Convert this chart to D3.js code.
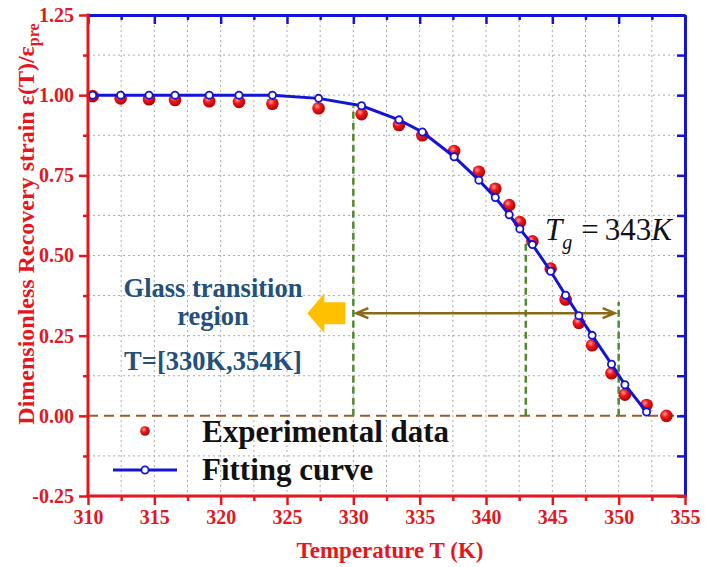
<!DOCTYPE html>
<html>
<head>
<meta charset="utf-8">
<script src="https://cdn.jsdelivr.net/npm/d3@7"></script>
<style>
  html, body { margin: 0; padding: 0; background: #fff; }
  svg { display: block; }
  text { font-family: "Liberation Serif", "Times New Roman", serif; }
</style>
</head>
<body>
<svg id="chart" width="705" height="567"></svg>
<script>
// Temperatures (K) at which recovery strain was sampled
const temps = [310.35, 312.46, 314.6, 316.56, 319.14, 321.38, 323.9, 327.38, 330.62, 333.44,
               335.2, 337.6, 339.46, 340.7, 341.75, 342.55, 343.5, 344.87, 346.0, 347.0,
               348.0, 349.46, 350.47, 352.1, 353.6];
// Measured dimensionless recovery strain
const experimental = [0.997, 0.990, 0.9875, 0.985, 0.981, 0.979, 0.973, 0.959, 0.941, 0.907,
                      0.875, 0.826, 0.761, 0.708, 0.657, 0.604, 0.544, 0.459, 0.363, 0.29,
                      0.22, 0.133, 0.066, 0.034, 0.0];
// Fitted model values (one fewer point than the measurements)
const fitting = [1.0, 1.0, 1.0, 1.0, 1.0, 1.0, 1.0, 0.99, 0.967, 0.923,
                 0.885, 0.808, 0.735, 0.681, 0.627, 0.583, 0.534, 0.451, 0.376, 0.3125,
                 0.251, 0.161, 0.097, 0.012];
// Axis ticks
const xTicks = [310, 315, 320, 325, 330, 335, 340, 345, 350, 355];
const xMinor = [312.5, 317.5, 322.5, 327.5, 332.5, 337.5, 342.5, 347.5, 352.5];
const yTicks = [-0.25, 0, 0.25, 0.5, 0.75, 1.0, 1.25];
const yTickLabels = ["-0.25", "0.00", "0.25", "0.50", "0.75", "1.00", "1.25"];
const yMinor = [-0.125, 0.125, 0.375, 0.625, 0.875, 1.125];
// Glass transition annotations
const regionStart = 330, regionEnd = 350, glassTg = 343;
const guideTemps = [regionStart, glassTg, regionEnd];
const guideTops = [0.965, 0.545, 0.355];
const arrowLevel = 0.32;
const regionLines = ["Glass transition", "region", "T=[330K,354K]"];
const legendLabels = ["Experimental data", "Fitting curve"];

const RED = "#e5161d", BLUE = "#1414d6";
const svg = d3.select("#chart");
const x = d3.scaleLinear().domain([310, 355]).range([88, 685]);
const y = d3.scaleLinear().domain([-0.25, 1.25]).range([496, 15]);

const defs = svg.append("defs");
const grad = defs.append("radialGradient").attr("id", "ball")
  .attr("cx", "38%").attr("cy", "35%").attr("r", "65%");
grad.append("stop").attr("offset", "0%").attr("stop-color", "#ffa0a0");
grad.append("stop").attr("offset", "40%").attr("stop-color", "#f21a1a");
grad.append("stop").attr("offset", "100%").attr("stop-color", "#b00000");

// dotted grid
const grid = svg.append("g").attr("stroke", "#aaa").attr("stroke-width", 1)
  .attr("stroke-dasharray", "2,3");
const vGrid = xTicks.concat(xMinor).filter(t => t > 310 && t < 355);
grid.selectAll("line.v").data(vGrid).join("line")
  .attr("x1", d => x(d)).attr("x2", d => x(d)).attr("y1", y(1.25)).attr("y2", y(-0.25));
const hGrid = yTicks.concat(yMinor).filter(t => t > -0.25 && t < 1.25 && t !== 0);
grid.selectAll("line.h").data(hGrid).join("line")
  .attr("y1", d => y(d)).attr("y2", d => y(d)).attr("x1", x(310)).attr("x2", x(355));

// zero reference
svg.append("line").attr("x1", x(310)).attr("x2", x(355)).attr("y1", y(0)).attr("y2", y(0))
  .attr("stroke", "#9a5a2a").attr("stroke-width", 2).attr("stroke-dasharray", "10,6");

// guide lines of the transition region
svg.append("g").selectAll("line").data(guideTemps).join("line")
  .attr("x1", d => x(d)).attr("x2", d => x(d))
  .attr("y1", y(0)).attr("y2", (d, i) => y(guideTops[i]))
  .attr("stroke", "#4f8a2c").attr("stroke-width", 2.5).attr("stroke-dasharray", "7,4");

// double-headed arrow spanning the region
const ay = y(arrowLevel), ax1 = x(regionStart) + 3, ax2 = x(regionEnd) - 4;
svg.append("path")
  .attr("d", `M${ax1},${ay}H${ax2}M${ax1 + 12},${ay - 5}L${ax1},${ay}L${ax1 + 12},${ay + 5}` +
             `M${ax2 - 12},${ay - 5}L${ax2},${ay}L${ax2 - 12},${ay + 5}`)
  .attr("fill", "none").attr("stroke", "#8a6a16").attr("stroke-width", 2.5);

// block arrow pointing left
const bx = x(regionStart) - 8;
svg.append("path")
  .attr("d", `M${bx},${ay - 11}H${bx - 21}V${ay - 20}L${bx - 38},${ay}L${bx - 21},${ay + 20}V${ay + 11}H${bx}Z`)
  .attr("fill", "#ffc000");

// region description
svg.append("g").attr("fill", "#24507a").attr("font-weight", "bold").attr("font-size", 26.5)
  .attr("text-anchor", "middle")
  .selectAll("text").data(regionLines).join("text")
  .attr("x", 213).attr("y", (d, i) => [297, 325, 370][i]).text(d => d);

// Tg label
const tg = svg.append("text").attr("x", 545).attr("y", 240).attr("font-size", 31).attr("fill", "#111");
tg.append("tspan").attr("font-style", "italic").text("T");
tg.append("tspan").attr("font-style", "italic").attr("font-size", 20).attr("dy", 9).text("g");
tg.append("tspan").attr("dy", -9).attr("dx", 9).text("=");
tg.append("tspan").attr("dx", 6).text(glassTg);
tg.append("tspan").attr("font-style", "italic").text("K");

// measured points
svg.append("g").selectAll("circle").data(temps).join("circle")
  .attr("cx", d => x(d)).attr("cy", (d, i) => y(experimental[i])).attr("r", 6.3)
  .attr("fill", "url(#ball)");

// fitted curve
const fitPts = fitting.map((v, i) => [temps[i], v]);
svg.append("path").datum(fitPts)
  .attr("d", d3.line().x(d => x(d[0])).y(d => y(d[1])))
  .attr("fill", "none").attr("stroke", BLUE).attr("stroke-width", 3);
svg.append("g").selectAll("circle").data(fitPts).join("circle")
  .attr("cx", d => x(d[0])).attr("cy", d => y(d[1])).attr("r", 3.6)
  .attr("fill", "#fff").attr("stroke", BLUE).attr("stroke-width", 1.8);

// axes
function styleAxis(g, color) {
  g.select(".domain").attr("stroke", color).attr("stroke-width", 3);
  g.selectAll(".tick line").attr("stroke", color).attr("stroke-width", 2.5);
  g.selectAll(".tick text").attr("fill", RED).attr("font-size", 20).attr("font-weight", "bold");
}
// top & right (blue, inward ticks)
svg.append("g").attr("transform", `translate(0,${y(1.25)})`)
  .call(d3.axisTop(x).tickValues(xTicks).tickSize(-9).tickSizeOuter(0).tickFormat(""))
  .call(g => styleAxis(g, BLUE));
svg.append("g").attr("transform", `translate(0,${y(1.25)})`)
  .call(d3.axisTop(x).tickValues(xMinor).tickSize(-5).tickSizeOuter(0).tickFormat(""))
  .call(g => g.select(".domain").remove())
  .call(g => styleAxis(g, BLUE));
svg.append("g").attr("transform", `translate(${x(355)},0)`)
  .call(d3.axisRight(y).tickValues(yTicks.concat(yMinor)).tickSize(-8).tickSizeOuter(0).tickFormat(""))
  .call(g => styleAxis(g, BLUE));
// bottom & left (red, outward ticks)
svg.append("g").attr("transform", `translate(0,${y(-0.25)})`)
  .call(d3.axisBottom(x).tickValues(xMinor).tickSize(5).tickSizeOuter(0).tickFormat(""))
  .call(g => g.select(".domain").remove())
  .call(g => styleAxis(g, RED));
svg.append("g").attr("transform", `translate(0,${y(-0.25)})`)
  .call(d3.axisBottom(x).tickValues(xTicks).tickSize(9).tickSizeOuter(0).tickPadding(5).tickFormat(d3.format("d")))
  .call(g => styleAxis(g, RED))
  .call(g => g.select(".domain").attr("d", `M${x(310) - 1.5},0H${x(355) + 1.5}`));
svg.append("g").attr("transform", `translate(${x(310)},0)`)
  .call(d3.axisLeft(y).tickValues(yMinor).tickSize(5).tickSizeOuter(0).tickFormat(""))
  .call(g => g.select(".domain").remove())
  .call(g => styleAxis(g, RED));
svg.append("g").attr("transform", `translate(${x(310)},0)`)
  .call(d3.axisLeft(y).tickValues(yTicks).tickSize(9).tickSizeOuter(0).tickPadding(5)
    .tickFormat((d, i) => yTickLabels[i]))
  .call(g => styleAxis(g, RED))
  .call(g => g.select(".domain").attr("d", `M0,${y(-0.25) + 1.5}V${y(1.25) - 1.5}`));

// axis titles
svg.append("text").attr("x", 390).attr("y", 558).attr("text-anchor", "middle")
  .attr("fill", RED).attr("font-size", 23).attr("font-weight", "bold").text("Temperature T (K)");
const yl = svg.append("text").attr("transform", "translate(34,224) rotate(-90)")
  .attr("text-anchor", "middle").attr("fill", RED).attr("font-size", 24).attr("font-weight", "bold");
yl.append("tspan").text("Dimensionless Recovery strain ε(T)/ε");
yl.append("tspan").attr("font-size", 16).attr("dy", 5).text("pre");

// legend
const lg = svg.append("g");
lg.append("circle").attr("cx", 145).attr("cy", 431).attr("r", 4.8).attr("fill", "url(#ball)");
lg.append("line").attr("x1", 113).attr("x2", 177).attr("y1", 470).attr("y2", 470)
  .attr("stroke", BLUE).attr("stroke-width", 3);
lg.append("circle").attr("cx", 145).attr("cy", 470).attr("r", 3.6)
  .attr("fill", "#fff").attr("stroke", BLUE).attr("stroke-width", 1.8);
lg.selectAll("text").data(legendLabels).join("text")
  .attr("x", 202).attr("y", (d, i) => [442, 480][i])
  .attr("font-size", 31).attr("font-weight", "bold").attr("fill", "#111").text(d => d);
</script>
</body>
</html>
